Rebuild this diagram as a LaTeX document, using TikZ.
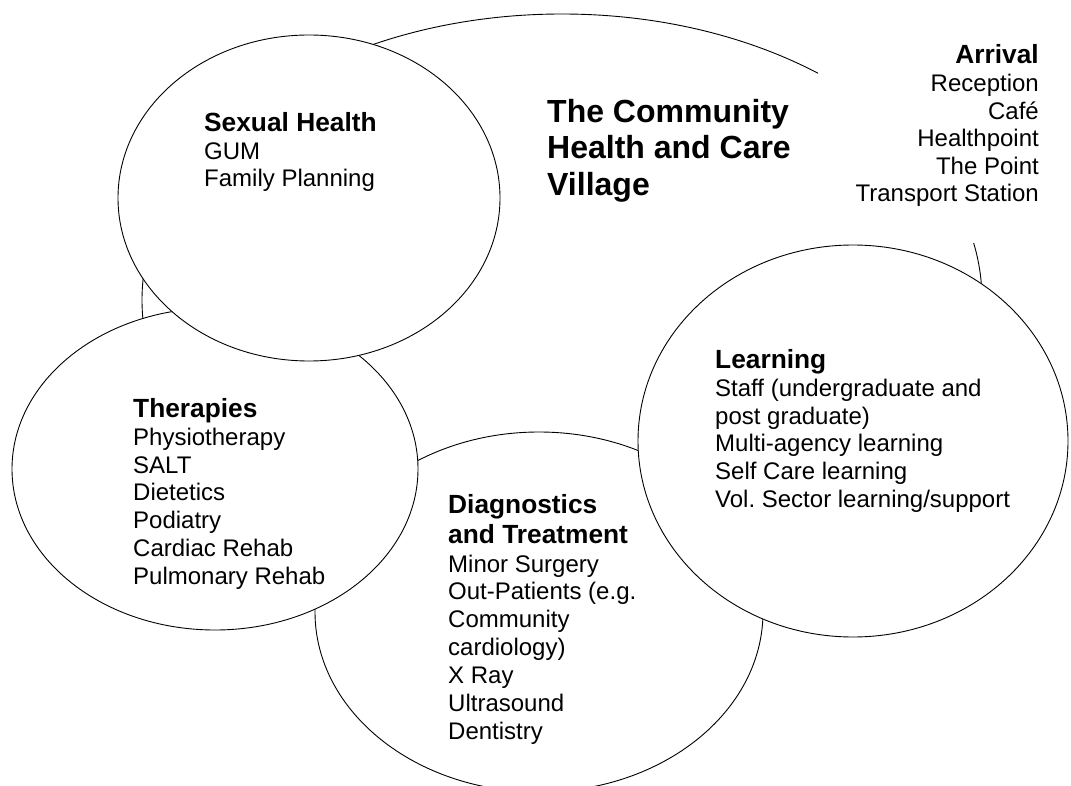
\documentclass[tikz,border=0pt]{standalone}
\usepackage{fontspec}
\setmainfont{Liberation Sans}
\usetikzlibrary{shapes.geometric}
\newcommand\hdtext[1]{{\bfseries\fontsize{26.3}{27.9}\selectfont #1}}
\newcommand\firststrut{\rule{0pt}{22pt}}
\begin{document}
\begin{tikzpicture}[x=1pt,y=-1pt,
  oval/.style={ellipse, draw=black, line width=0.9pt, fill=white, inner sep=0pt},
  body/.style={inner sep=0pt, anchor=north west, align=left, font=\fontsize{24}{27.9}\selectfont},
  bodyright/.style={inner sep=0pt, anchor=north east, align=right, font=\fontsize{24}{27.5}\selectfont},
  titletext/.style={inner sep=0pt, anchor=north west, align=left, font=\bfseries\fontsize{32}{36.5}\selectfont},
  hidebox/.style={fill=white, inner sep=0pt}]
\useasboundingbox (0,0) rectangle (1071,786);
\fill[white] (0,0) rectangle (1071,786);
% ovals, back to front
\node[oval, minimum width=840pt, minimum height=572pt] (village) at (562,300) {};
\node[hidebox, minimum width=240pt, minimum height=215pt] (arrivalbg) at (938,135.5) {};
\node[oval, minimum width=448pt, minimum height=360pt] (diag) at (539,612) {};
\node[oval, minimum width=430pt, minimum height=392pt] (learn) at (853,441) {};
\node[oval, minimum width=406pt, minimum height=322pt] (ther) at (215,469) {};
\node[oval, minimum width=382pt, minimum height=326pt] (sh) at (309,198) {};
% texts
\node[titletext] (title) at (547,96) {\rule{0pt}{26pt}The Community\\Health and Care\\Village};
\node[bodyright] (arrival) at (1039,41) {\firststrut\hdtext{Arrival}\\[1pt]Reception\\Café\\Healthpoint\\The Point\\Transport Station};
\node[body] (shtext) at (204,109) {\firststrut\hdtext{Sexual Health}\\GUM\\Family Planning};
\node[body] (thertext) at (133,395) {\firststrut\hdtext{Therapies}\\Physiotherapy\\SALT\\Dietetics\\Podiatry\\Cardiac Rehab\\Pulmonary Rehab};
\node[body] (diagtext) at (448,491) {\firststrut\hdtext{Diagnostics}\\[2pt]\hdtext{and Treatment}\\[1pt]Minor Surgery\\Out-Patients (e.g.\\Community\\cardiology)\\X Ray\\Ultrasound\\Dentistry};
\node[body] (learntext) at (715,346) {\firststrut\hdtext{Learning}\\Staff (undergraduate and\\post graduate)\\Multi-agency learning\\Self Care learning\\Vol.\ Sector learning/support};
\end{tikzpicture}
\end{document}
